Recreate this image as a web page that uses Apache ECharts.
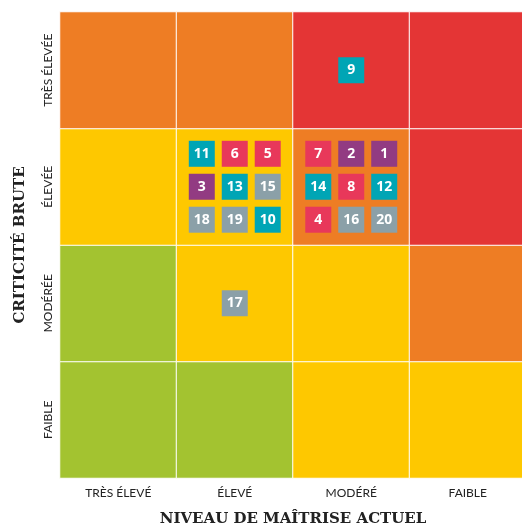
<!DOCTYPE html>
<html>
<head>
<meta charset="utf-8">
<script src="https://cdn.jsdelivr.net/npm/echarts@6/dist/echarts.min.js"></script>
<style>
  html, body { margin: 0; padding: 0; background: #fff; }
  #main { width: 522px; height: 526px; }
</style>
</head>
<body>
<div id="main"></div>
<script>
// axes
var maitrise = ['TRÈS ÉLEVÉ', 'ÉLEVÉ', 'MODÉRÉ', 'FAIBLE'];
var criticite = ['FAIBLE', 'MODÉRÉE', 'ÉLEVÉE', 'TRÈS ÉLEVÉE'];

// niveau de risque de chaque case, ligne par ligne (du bas vers le haut)
var cellLevels = [
  [0, 0, 1, 1],   // FAIBLE
  [0, 1, 1, 2],   // MODÉRÉE
  [1, 1, 2, 3],   // ÉLEVÉE
  [2, 2, 3, 3]    // TRÈS ÉLEVÉE
];
var levelColors = ['#a3c330', '#fec800', '#ee7d24', '#e43535'];

// risques : numéro, colonne, ligne, décalage dans la case, famille
var riskIds   = [11, 6, 5, 3, 13, 15, 18, 19, 10, 7, 2, 1, 14, 8, 12, 4, 16, 20, 9, 17];
var riskCol   = [1, 1, 1, 1, 1, 1, 1, 1, 1, 2, 2, 2, 2, 2, 2, 2, 2, 2, 2, 1];
var riskRow   = [2, 2, 2, 2, 2, 2, 2, 2, 2, 2, 2, 2, 2, 2, 2, 2, 2, 2, 3, 1];
var riskDx    = [-1, 0, 1, -1, 0, 1, -1, 0, 1, -1, 0, 1, -1, 0, 1, -1, 0, 1, 0, 0];
var riskDy    = [1, 1, 1, 0, 0, 0, -1, -1, -1, 1, 1, 1, 0, 0, 0, -1, -1, -1, 0, 0];
var riskGroup = ['b', 'r', 'r', 'p', 'b', 'g', 'g', 'g', 'b', 'r', 'p', 'p', 'b', 'r', 'b', 'r', 'g', 'g', 'b', 'g'];
var groupColors = { b: '#00a5b5', r: '#e8385a', p: '#923b82', g: '#8ba0a8' };

var step = 0.283;

var cells = [];
cellLevels.forEach(function(row, r) {
  row.forEach(function(lv, c) {
    cells.push({ value: [c, r, lv], itemStyle: { color: levelColors[lv] } });
  });
});

var risks = riskIds.map(function(id, i) {
  return {
    value: [riskCol[i] + 0.5 + riskDx[i] * step, riskRow[i] + 0.5 + riskDy[i] * step, id],
    itemStyle: { color: groupColors[riskGroup[i]], opacity: 1 }
  };
});

var labelFont = 'Lato, "Open Sans", sans-serif';
var titleFont = 'DejaVu Serif';

var myChart = echarts.init(document.getElementById('main'));
var option = {
  animation: false,
  grid: { left: 60, top: 12, width: 466, height: 466, outerBoundsMode: 'none', containLabel: false },
  xAxis: [{
    type: 'category',
    data: maitrise,
    axisLine: { show: false },
    axisTick: { show: false },
    splitLine: { show: false },
    axisLabel: { margin: 9, color: '#222', fontSize: 12, fontFamily: labelFont },
    name: 'NIVEAU DE MAÎTRISE ACTUEL',
    nameLocation: 'middle',
    nameGap: 34,
    nameTextStyle: { fontFamily: titleFont, fontWeight: 'bold', fontSize: 15, color: '#222' }
  }, {
    type: 'value', min: 0, max: 4, show: false
  }],
  yAxis: [{
    type: 'category',
    data: criticite,
    axisLine: { show: false },
    axisTick: { show: false },
    splitLine: { show: false },
    axisLabel: { rotate: 90, margin: 6, color: '#222', fontSize: 12, fontFamily: labelFont },
    name: 'CRITICITÉ BRUTE',
    nameLocation: 'middle',
    nameGap: 32,
    nameRotate: 90,
    nameTextStyle: { fontFamily: titleFont, fontWeight: 'bold', fontSize: 15, color: '#222' }
  }, {
    type: 'value', min: 0, max: 4, show: false
  }],
  series: [{
    type: 'heatmap',
    xAxisIndex: 0,
    yAxisIndex: 0,
    data: cells,
    itemStyle: { borderColor: '#fff', borderWidth: 1 }
  }, {
    type: 'scatter',
    xAxisIndex: 1,
    yAxisIndex: 1,
    symbol: 'rect',
    symbolSize: 26,
    data: risks,
    label: {
      show: true,
      formatter: function(p) { return p.value[2]; },
      color: '#fff',
      fontWeight: 'bold',
      fontSize: 14,
      fontFamily: '"Open Sans", sans-serif'
    }
  }]
};
myChart.setOption(option);
</script>
</body>
</html>
